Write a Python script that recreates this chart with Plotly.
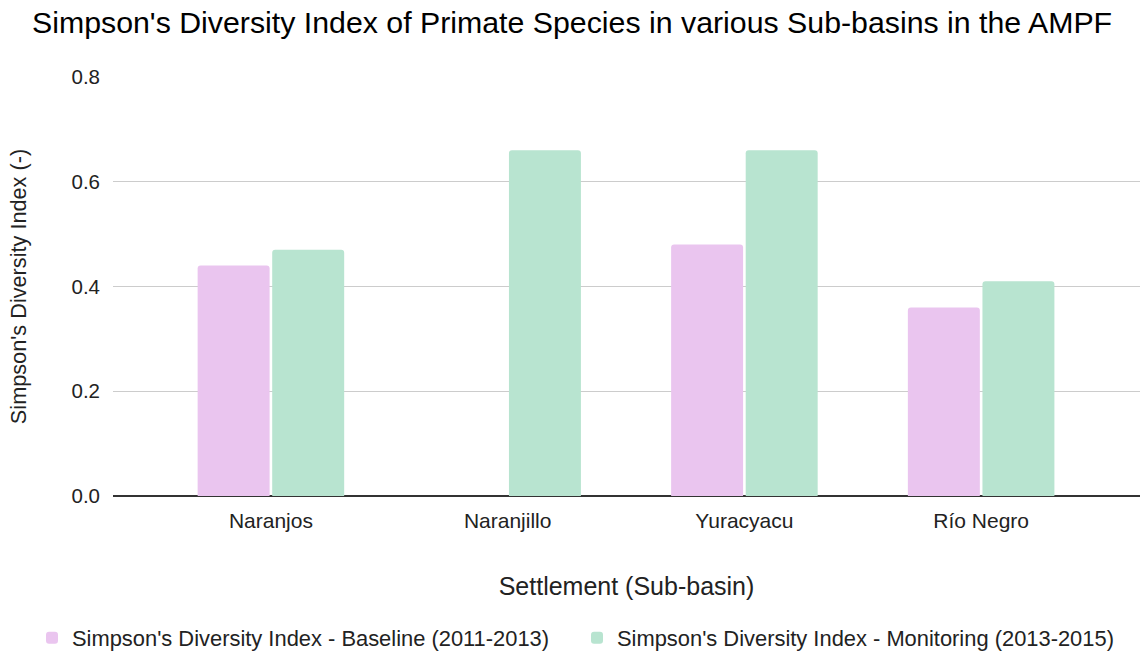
import plotly.graph_objects as go

categories = ["Naranjos", "Naranjillo", "Yuracyacu", "Río Negro"]
baseline = [0.44, None, 0.48, 0.36]
monitoring = [0.47, 0.66, 0.66, 0.41]
series_names = ["Simpson's Diversity Index - Baseline (2011-2013)",
                "Simpson's Diversity Index - Monitoring (2013-2015)"]
y_ticks = [0.0, 0.2, 0.4, 0.6, 0.8]
y_tick_labels = ["0.0", "0.2", "0.4", "0.6", "0.8"]

FONT = "Liberation Sans, Arial, sans-serif"

fig = go.Figure()
fig.add_trace(go.Bar(x=categories, y=baseline, name=series_names[0],
                     marker=dict(color="#EAC5EF", line=dict(width=0))))
fig.add_trace(go.Bar(x=categories, y=monitoring, name=series_names[1],
                     marker=dict(color="#B8E4D0", line=dict(width=0))))

fig.update_layout(
    width=1140, height=653,
    margin=dict(l=113, r=0, t=77, b=157, autoexpand=False),
    paper_bgcolor="white", plot_bgcolor="white",
    font=dict(family=FONT, color="#222222", size=21),
    title=dict(text="Simpson's Diversity Index of Primate Species in various Sub-basins in the AMPF",
               x=32/1140, xanchor="left", y=1 - 22/653, yanchor="middle",
               font=dict(size=30.3, color="#000000", family=FONT)),
    barmode="group", bargap=0.37, bargroupgap=0.035,
    barcornerradius=3,
    showlegend=True,
    legend=dict(orientation="h", x=(32 - 113) / 1027, xanchor="left",
                y=(496 - 638) / 419, yanchor="middle",
                font=dict(size=21.9, color="#222222", family=FONT),
                itemwidth=30, traceorder="normal",
                entrywidth=500, entrywidthmode="pixels"),
    xaxis=dict(range=[-0.667, 3.671], showgrid=False, showline=False,
               zeroline=False, ticks="", ticklabelstandoff=10,
               tickfont=dict(size=21, color="#222222"),
               title=dict(text="Settlement (Sub-basin)", standoff=46,
                          font=dict(size=25, color="#222222"))),
    yaxis=dict(range=[0, 0.8], tickvals=y_ticks, ticktext=y_tick_labels,
               showgrid=True, gridcolor="#CCCCCC", gridwidth=1.4,
               zeroline=True, zerolinecolor="#333333", zerolinewidth=1.6,
               showline=False, ticks="", ticklabelstandoff=12,
               tickfont=dict(size=20.5, color="#222222"),
               title=dict(text="Simpson's Diversity Index (-)", standoff=38,
                          font=dict(size=21.7, color="#222222"))),
)

fig.write_html("out.html")
